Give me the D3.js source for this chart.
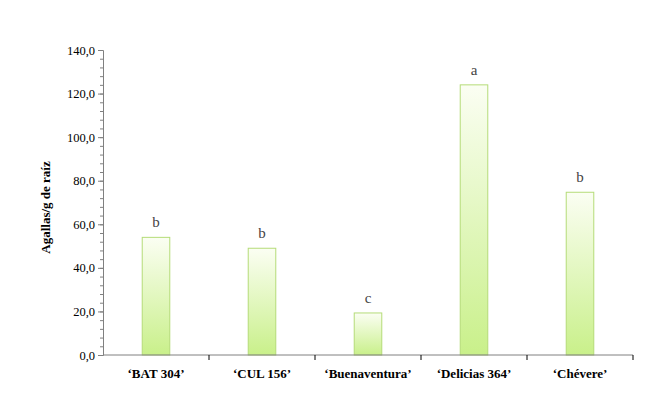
<!DOCTYPE html>
<html><head><meta charset="utf-8">
<script src="https://cdn.jsdelivr.net/npm/d3@7"></script>
<style>body{margin:0;background:#fff}</style>
</head><body>
<svg id="chart" width="648" height="408"></svg>
<script>
var categories = ['\u2018BAT 304\u2019', '\u2018CUL 156\u2019', '\u2018Buenaventura\u2019', '\u2018Delicias 364\u2019', '\u2018Ch\u00e9vere\u2019'];
var values = [54.0, 49.0, 19.3, 124.0, 74.7];
var letters = ['b', 'b', 'c', 'a', 'b'];
var yTicks = [0, 20, 40, 60, 80, 100, 120, 140];

var svg = d3.select('#chart'),
    mLeft = 103, mRight = 633, mTop = 50, mBottom = 355;

var x = d3.scaleBand().domain(categories).range([mLeft, mRight]).paddingInner(0.74).paddingOuter(0.37);
var y = d3.scaleLinear().domain([0, 140]).range([mBottom, mTop]);

var grad = svg.append('defs').append('linearGradient').attr('id', 'g')
    .attr('x1', 0).attr('y1', 0).attr('x2', 0).attr('y2', 1);
grad.append('stop').attr('offset', '0%').attr('stop-color', '#fbfef3');
grad.append('stop').attr('offset', '100%').attr('stop-color', '#c9f08a');

svg.selectAll('rect.bar').data(values).enter().append('rect')
    .attr('x', function(d, i) { return x(categories[i]); })
    .attr('y', function(d) { return y(d); })
    .attr('width', x.bandwidth())
    .attr('height', function(d) { return mBottom - y(d); })
    .attr('fill', 'url(#g)').attr('stroke', '#b5dc78').attr('stroke-width', 1);

svg.selectAll('text.lt').data(values).enter().append('text')
    .attr('x', function(d, i) { return x(categories[i]) + x.bandwidth() / 2; })
    .attr('y', function(d) { return y(d) - 10; })
    .attr('text-anchor', 'middle')
    .style('font', '15px "Liberation Serif", serif').attr('fill', '#444')
    .text(function(d, i) { return letters[i]; });

// y axis with minor ticks
var yAxis = svg.append('g').attr('transform', 'translate(' + mLeft + ',0)')
    .call(d3.axisLeft(y).tickValues(yTicks).tickSize(5).tickFormat(function(d) { return d.toFixed(1).replace('.', ','); }));
svg.append('g').attr('transform', 'translate(' + mLeft + ',0)')
    .call(d3.axisLeft(y).tickValues(d3.range(0, 141, 4)).tickSize(3).tickFormat(''))
    .select('.domain').remove();
yAxis.selectAll('text').style('font', '12.5px "Liberation Serif", serif').attr('fill', '#000');

// x axis
var xAxis = svg.append('g').attr('transform', 'translate(0,' + mBottom + ')')
    .call(d3.axisBottom(x).tickSize(0).tickPadding(14));
xAxis.select('.domain').attr('d', 'M' + mLeft + ',0H' + mRight);
xAxis.selectAll('text').style('font', 'bold 13px "Liberation Serif", serif').attr('fill', '#000');
svg.selectAll('line.sep').data(categories).enter().append('line')
    .attr('x1', function(d, i) { return mLeft + (i + 1) * x.step(); })
    .attr('x2', function(d, i) { return mLeft + (i + 1) * x.step(); })
    .attr('y1', mBottom).attr('y2', mBottom + 5).attr('stroke', '#000');
svg.selectAll('.domain, .tick line').attr('stroke', '#808080');

svg.append('text').attr('transform', 'translate(50,' + ((mTop + mBottom) / 2 + 5) + ') rotate(-90)')
    .attr('text-anchor', 'middle')
    .style('font', 'bold 13px "Liberation Serif", serif')
    .text('Agallas/g de ra\u00edz');
</script>
</body></html>
